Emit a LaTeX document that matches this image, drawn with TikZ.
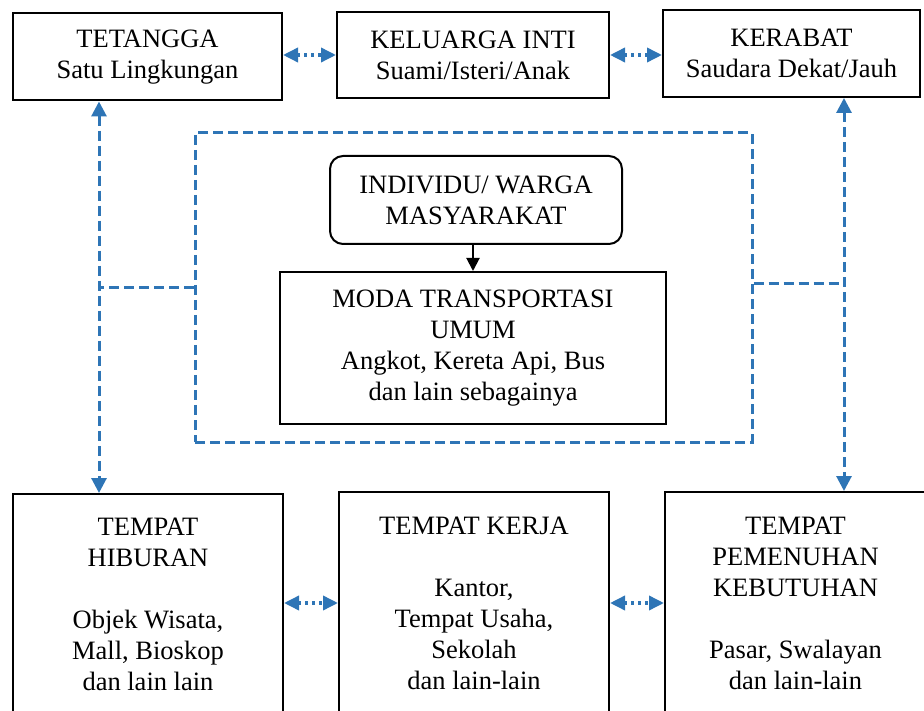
\documentclass[tikz,border=0pt]{standalone}
\usepackage{fontspec}
\setmainfont{Liberation Serif}
\usetikzlibrary{arrows.meta}
\definecolor{dblue}{HTML}{2E75B6}
\begin{document}
\begin{tikzpicture}[x=1pt,y=-1pt,
  box/.style={draw,line width=2pt,align=center,inner sep=0pt,
    font=\fontsize{26.5}{31}\selectfont},
  grpbox/.style={draw=dblue,line width=3pt,dash pattern=on 10pt off 5pt,inner sep=0pt},
  dashlink/.style={dblue,line width=3pt,dash pattern=on 10pt off 5pt},
  dasharrow/.style={dashlink,{Triangle[length=15pt,width=15pt]}-{Triangle[length=15pt,width=15pt]}},
  dotarrow/.style={dblue,line width=3.5pt,dash pattern=on 3pt off 4pt,
    {Triangle[length=15pt,width=14pt]}-{Triangle[length=15pt,width=14pt]}},
  blackarrow/.style={line width=2pt,-{Triangle[length=13pt,width=13pt]}}]
\useasboundingbox (0,0) rectangle (924,711);

% top row
\node[box,minimum width=269pt,minimum height=87pt] (TET) at (147.5,57) {TETANGGA\\Satu Lingkungan};
\node[box,minimum width=272pt,minimum height=86pt] (KEL) at (473,55) {KELUARGA INTI\\Suami/Isteri/Anak};
\node[box,minimum width=257pt,minimum height=87pt] (KER) at (791.5,53.5) {KERABAT\\Saudara Dekat/Jauh};

% group
\node[grpbox,minimum width=557pt,minimum height=309pt] (GRP) at (473.5,287.5) {};
\node[box,rounded corners=13pt,minimum width=292pt,minimum height=88pt] (IND) at (476,200) {INDIVIDU/ WARGA\\MASYARAKAT};
\node[box,minimum width=386pt,minimum height=152pt] (MODA) at (473,348) {MODA TRANSPORTASI\\UMUM\\Angkot, Kereta Api, Bus\\dan lain sebagainya};

% bottom row
\node[box,minimum width=270pt,minimum height=220pt] (HIB) at (148,604) {TEMPAT\\HIBURAN\\[31pt]Objek Wisata,\\Mall, Bioskop\\dan lain lain};
\node[box,minimum width=270pt,minimum height=222pt] (KRJ) at (474,603) {TEMPAT KERJA\\[31pt]Kantor,\\Tempat Usaha,\\Sekolah\\dan lain-lain};
\node[box,minimum width=261pt,minimum height=222pt] (PEM) at (795.5,603) {TEMPAT\\PEMENUHAN\\KEBUTUHAN\\[31pt]Pasar, Swalayan\\dan lain-lain};

% dotted horizontal arrows
\draw[dotarrow] (TET.east |- KEL.west) -- (KEL.west);
\draw[dotarrow] (KEL.east) -- (KEL.east -| KER.west);
\draw[dotarrow] (HIB.east |- KRJ.west) -- (KRJ.west);
\draw[dotarrow] (KRJ.east) -- (KRJ.east -| PEM.west);

% vertical dashed arrows
\coordinate (L1) at ([xshift=87pt]TET.south west);
\coordinate (L2) at ([xshift=87pt]HIB.north west);
\coordinate (R1) at ([xshift=182pt]KER.south west);
\coordinate (R2) at ([xshift=180pt]PEM.north west);
\draw[dasharrow] (L1) -- (L2);
\draw[dasharrow] (R1) -- (R2);
\draw[dashlink] (GRP.west) -- (GRP.west -| L1);
\draw[dashlink] ([yshift=4pt]GRP.east) -- ([yshift=4pt]GRP.east -| R1);

% individual to moda
\draw[blackarrow] (IND.south -| MODA.north) -- (MODA.north);
\end{tikzpicture}
\end{document}
